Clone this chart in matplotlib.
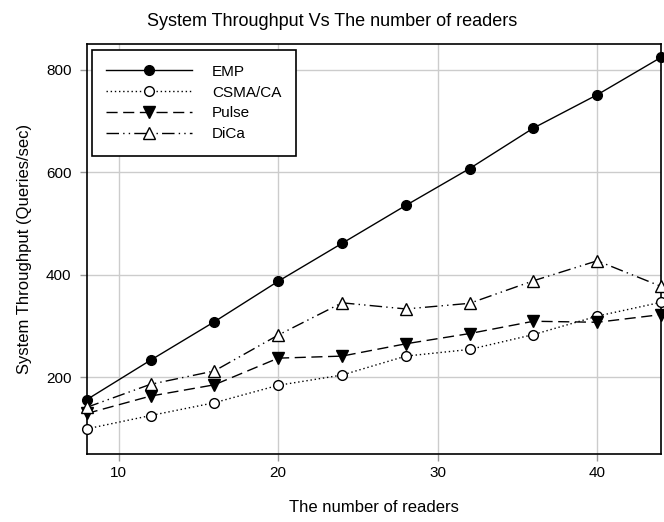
import matplotlib.pyplot as plt

plt.rcParams['font.family'] = ['Liberation Sans', 'DejaVu Sans']

# number of readers and throughput of each scheme (queries/sec)
readers = [8, 12, 16, 20, 24, 28, 32, 36, 40, 44]
emp = [156, 233, 308, 387, 461, 535, 607, 686, 751, 824]
csma = [99, 125, 150, 184, 204, 241, 254, 283, 319, 346]
pulse = [129, 163, 185, 237, 241, 265, 285, 309, 307, 322]
dica = [141, 186, 212, 282, 345, 333, 344, 388, 427, 377]

fig = plt.figure(figsize=(6.64, 5.22), dpi=100)
ax = fig.add_axes([0.1306, 0.1303, 0.865, 0.7854])

ax.plot(readers, emp, color='black', lw=1, ls='-', marker='o', ms=7,
        mfc='black', mec='black', label='EMP', clip_on=False, zorder=3)
ax.plot(readers, csma, color='black', lw=1, ls=(0, (1, 2)), marker='o', ms=7,
        mfc='white', mec='black', label='CSMA/CA', clip_on=False, zorder=3)
ax.plot(readers, pulse, color='black', lw=1, ls=(0, (8, 4)), marker='v', ms=8,
        mfc='black', mec='black', label='Pulse', clip_on=False, zorder=3)
ax.plot(readers, dica, color='black', lw=1, ls=(0, (9, 3, 1, 3, 1, 3)), marker='^', ms=8,
        mfc='white', mec='black', label='DiCa', clip_on=False, zorder=3)

ax.set_xlim(8, 44)
ax.set_ylim(50, 850)
ax.set_xticks([10, 20, 30, 40])
ax.set_yticks([200, 400, 600, 800])
ax.grid(True, color='#cccccc', lw=1)
ax.set_axisbelow(True)
ax.tick_params(labelsize=11, length=5, width=1, color='#999999')
ax.tick_params(axis='x', pad=4)
ax.tick_params(axis='y', pad=6)
for s in ax.spines.values():
    s.set_linewidth(1.2)

ax.set_xlabel('The number of readers', fontsize=12, labelpad=14)
ax.set_ylabel('System Throughput (Queries/sec)', fontsize=12, labelpad=10)
fig.text(0.5, 0.958, 'System Throughput Vs The number of readers',
         ha='center', va='center', fontsize=13)

leg = ax.legend(loc='upper left', bbox_to_anchor=(0.009, 0.985), fontsize=11,
                handlelength=5.6, handletextpad=1.3, labelspacing=0.45,
                fancybox=False, edgecolor='black', framealpha=1,
                borderpad=0.95, borderaxespad=0)
leg.get_frame().set_linewidth(1.2)

fig.savefig('out.png', dpi=100)
